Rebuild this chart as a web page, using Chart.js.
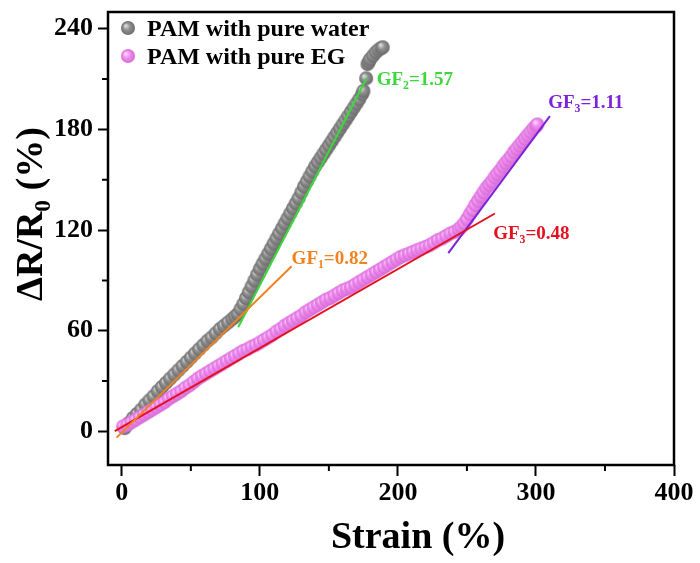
<!DOCTYPE html>
<html>
<head>
<meta charset="utf-8">
<script src="https://cdn.jsdelivr.net/npm/chart.js@4.4.1/dist/chart.umd.min.js"></script>
<style>
  html, body { margin: 0; padding: 0; background: #fff; }
</style>
</head>
<body>
<canvas id="grafico" width="700" height="563"></canvas>
<script>
// dados
const seriesNames = ['PAM with pure water', 'PAM with pure EG'];

const waterStrain = [2, 5, 8, 11, 14, 17, 20, 23, 26, 29, 32, 35, 38, 41, 44, 47, 50, 53, 56, 59, 62, 65, 68, 71, 74, 77, 80, 82,
  84, 86, 88, 90, 92, 94, 96, 98, 100, 102, 104, 106, 108, 110, 112, 114, 116, 118, 120, 122, 124, 126, 128, 130,
  132, 134, 136, 138, 140, 142, 144, 146, 148, 150, 152, 154, 156, 158, 160, 162, 164, 166, 168, 170, 172, 174, 175,
  177, 178, 179, 180, 182, 184, 186, 188, 189];
const waterResp = [2, 5, 8, 10.5, 13, 16, 18.5, 21, 24, 26.5, 29, 31.5, 34, 36.5, 39, 41.5, 44, 46.5, 49, 51.5, 54, 56, 58.5, 61, 63, 65, 67, 68.5,
  70, 73, 76, 79.5, 83, 86.5, 90, 93.5, 97, 100, 103, 106, 109, 112, 115, 118, 121, 124, 127, 130, 133, 136, 139, 142.5,
  146, 149, 152, 155, 158, 160.5, 163, 165.5, 168, 170.5, 173, 175.5, 178, 180.5, 183, 185.5, 188, 190.5, 193, 195.5, 198, 201, 203,
  210.5, 219, 220.5, 222, 224, 226, 227.5, 228.5, 229];

const egStrain = [1, 4, 7, 10, 13, 16, 19, 22, 25, 28, 31, 34, 37, 40, 43, 46, 49, 52, 55, 58, 61, 64, 67, 70, 73, 76, 79, 82, 85,
  88, 91, 94, 97, 100, 103, 106, 109, 112, 115, 118, 121, 124, 127, 130, 133, 136, 139, 142, 145, 148, 151, 154, 157, 160,
  163, 166, 169, 172, 175, 178, 181, 184, 187, 190, 193, 196, 199, 202, 205, 208, 211, 214, 217, 220, 223, 226, 229, 232,
  235, 238, 241, 244, 246, 248, 250, 252, 254, 256, 258, 260, 262, 264, 266, 268, 270, 272, 274, 276, 278, 280, 282, 284,
  286, 288, 290, 292, 294, 296, 298, 300, 301];
const egResp = [3, 4, 5.5, 7, 8.5, 10, 11.5, 13, 14.5, 16, 17.5, 19.5, 21, 22.5, 24, 26, 27.5, 29.5, 31.5, 33, 34.5, 36, 37.5, 39, 40.5, 42, 43.5, 45, 46.5,
  48, 49, 50.5, 51.5, 53, 54.5, 56, 57.5, 59.5, 61, 63, 64.5, 66, 67.5, 69, 71, 72.5, 74, 75.5, 77, 78.5, 79.5, 81, 82.5, 84,
  85, 86, 87.5, 89, 90.5, 92, 93.5, 95, 96.5, 98, 99.5, 101, 102.5, 104, 105, 106, 107, 108, 109, 110, 111, 112.5, 114, 115,
  116.5, 118, 119, 120.5, 122, 124, 126.5, 129.5, 132, 135, 137.5, 140, 142.5, 145, 147, 149, 151.5, 153.5, 155.5, 158, 160, 162, 164, 166.5,
  168.5, 170.5, 172.5, 174.5, 176.5, 178.5, 180.5, 182, 183];

// retas de ajuste (pontos extremos)
const fitStrain = [[-3.8, 123], [84.3, 177.3], [-5.1, 270.3], [236.5, 310.1]];
const fitResp = [[-3.7, 98.5], [62.1, 210.5], [0.2, 129.9], [106.3, 187.9]];
const fitSub = ['1', '2', '3', '3'];
const fitValue = ['=0.82', '=1.57', '=0.48', '=1.11'];
const fitColors = ['#f08222', '#3ad83a', '#e4101e', '#7c22d8'];
const labelStrain = [123, 184.6, 269, 308.9];
const labelResp = [103.4, 209.9, 118.1, 196.2];

const xTicks = [0, 100, 200, 300, 400];
const yTicks = [0, 60, 120, 180, 240];
const xMinor = [50, 150, 250, 350];
const yMinor = [30, 90, 150, 210];

const serif = "'Liberation Serif', 'Times New Roman', serif";

function esfera(c1, c2, c3, r) {
  const c = document.createElement('canvas');
  const d = Math.ceil(r * 2) + 2;
  c.width = d; c.height = d;
  const g = c.getContext('2d');
  const m = d / 2;
  const grad = g.createRadialGradient(m - r * 0.35, m - r * 0.35, r * 0.08, m, m, r);
  grad.addColorStop(0, c1);
  grad.addColorStop(0.45, c2);
  grad.addColorStop(1, c3);
  g.fillStyle = grad;
  g.beginPath(); g.arc(m, m, r, 0, Math.PI * 2); g.fill();
  return c;
}

const bolaCinza = esfera('#e0e0e0', '#909090', '#6c6c6c', 7);
const bolaRosa = esfera('#ffdcff', '#f28cf2', '#d46cd4', 7);

// texto com subscrito
function textoSub(ctx, partes, x, y, tam, centro) {
  let total = 0;
  const larg = partes.map(p => {
    ctx.font = 'bold ' + (p[1] ? tam * 0.62 : tam) + 'px ' + serif;
    const w = ctx.measureText(p[0]).width;
    total += w;
    return w;
  });
  let px = centro ? x - total / 2 : x;
  ctx.textAlign = 'left';
  ctx.textBaseline = 'alphabetic';
  partes.forEach((p, i) => {
    ctx.font = 'bold ' + (p[1] ? tam * 0.62 : tam) + 'px ' + serif;
    ctx.fillText(p[0], px, p[1] ? y + tam * 0.22 : y);
    px += larg[i];
  });
}

const moldura = {
  id: 'moldura',
  afterDraw(chart) {
    const ctx = chart.ctx;
    const a = chart.chartArea;
    const sx = chart.scales.x, sy = chart.scales.y;
    ctx.save();
    ctx.strokeStyle = '#000';
    ctx.lineWidth = 2.5;
    ctx.strokeRect(a.left, a.top, a.right - a.left, a.bottom - a.top);

    // ticks menores
    ctx.lineWidth = 2;
    ctx.beginPath();
    xMinor.forEach(v => {
      const p = sx.getPixelForValue(v);
      ctx.moveTo(p, a.bottom); ctx.lineTo(p, a.bottom + 6);
    });
    yMinor.forEach(v => {
      const p = sy.getPixelForValue(v);
      ctx.moveTo(a.left, p); ctx.lineTo(a.left - 6, p);
    });
    ctx.stroke();

    // rotulos GF
    labelStrain.forEach((v, i) => {
      ctx.fillStyle = fitColors[i];
      const px = sx.getPixelForValue(v);
      const py = sy.getPixelForValue(labelResp[i]);
      textoSub(ctx, [['GF', false], [fitSub[i], true], [fitValue[i], false]], px, py + 6, 19, false);
    });

    // titulos dos eixos
    ctx.fillStyle = '#000';
    textoSub(ctx, [['Strain (%)', false]], a.left + (a.right - a.left) / 2 + 27, 548, 38, true);
    ctx.save();
    ctx.translate(42, 214);
    ctx.rotate(-Math.PI / 2);
    textoSub(ctx, [['\u0394R/R', false], ['0', true], [' (%)', false]], 0, 0, 38, true);
    ctx.restore();

    // legenda
    const bolas = [bolaCinza, bolaRosa];
    seriesNames.forEach((n, i) => {
      const cy = a.top + 16 + i * 28;
      const img = bolas[i];
      ctx.drawImage(img, a.left + 20 - img.width / 2, cy - img.height / 2);
      ctx.fillStyle = '#000';
      textoSub(ctx, [[n, false]], a.left + 39, cy + 8, 24, false);
    });
    ctx.restore();
  }
};

const datasets = [];
fitStrain.forEach((xs, i) => {
  datasets.push({
    type: 'scatter',
    data: xs.map((v, j) => ({ x: v, y: fitResp[i][j] })),
    showLine: true,
    borderColor: fitColors[i],
    borderWidth: 2,
    pointRadius: 0,
    order: 0
  });
});
datasets.push({
  label: seriesNames[1],
  data: egStrain.map((v, i) => ({ x: v, y: egResp[i] })),
  pointStyle: bolaRosa,
  order: 1
});
datasets.push({
  label: seriesNames[0],
  data: waterStrain.map((v, i) => ({ x: v, y: waterResp[i] })),
  pointStyle: bolaCinza,
  order: 2
});

const ctx = document.getElementById('grafico');
const grafico = new Chart(ctx, {
  type: 'scatter',
  data: { datasets: datasets },
  options: {
    responsive: false,
    animation: false,
    devicePixelRatio: 1,
    layout: { padding: { top: 12, right: 26, left: 0, bottom: 0 } },
    plugins: { legend: { display: false }, tooltip: { enabled: false } },
    scales: {
      x: {
        type: 'linear', min: -10, max: 400,
        afterBuildTicks: s => { s.ticks = xTicks.map(v => ({ value: v })); },
        afterFit: s => { s.height = 98; s.paddingLeft = 0; s.paddingRight = 0; },
        grid: { drawOnChartArea: false, drawTicks: true, tickLength: 11, tickWidth: 2, tickColor: '#000' },
        border: { display: false },
        ticks: { font: { family: serif, size: 26, weight: 'bold' }, color: '#000', padding: 2, maxRotation: 0 }
      },
      y: {
        type: 'linear', min: -20, max: 250,
        afterBuildTicks: s => { s.ticks = yTicks.map(v => ({ value: v })); },
        afterFit: s => { s.width = 108; s.paddingTop = 0; s.paddingBottom = 0; },
        grid: { drawOnChartArea: false, drawTicks: true, tickLength: 10, tickWidth: 2, tickColor: '#000' },
        border: { display: false },
        ticks: { font: { family: serif, size: 26, weight: 'bold' }, color: '#000', padding: 5 }
      }
    }
  },
  plugins: [moldura]
});
</script>
</body>
</html>
